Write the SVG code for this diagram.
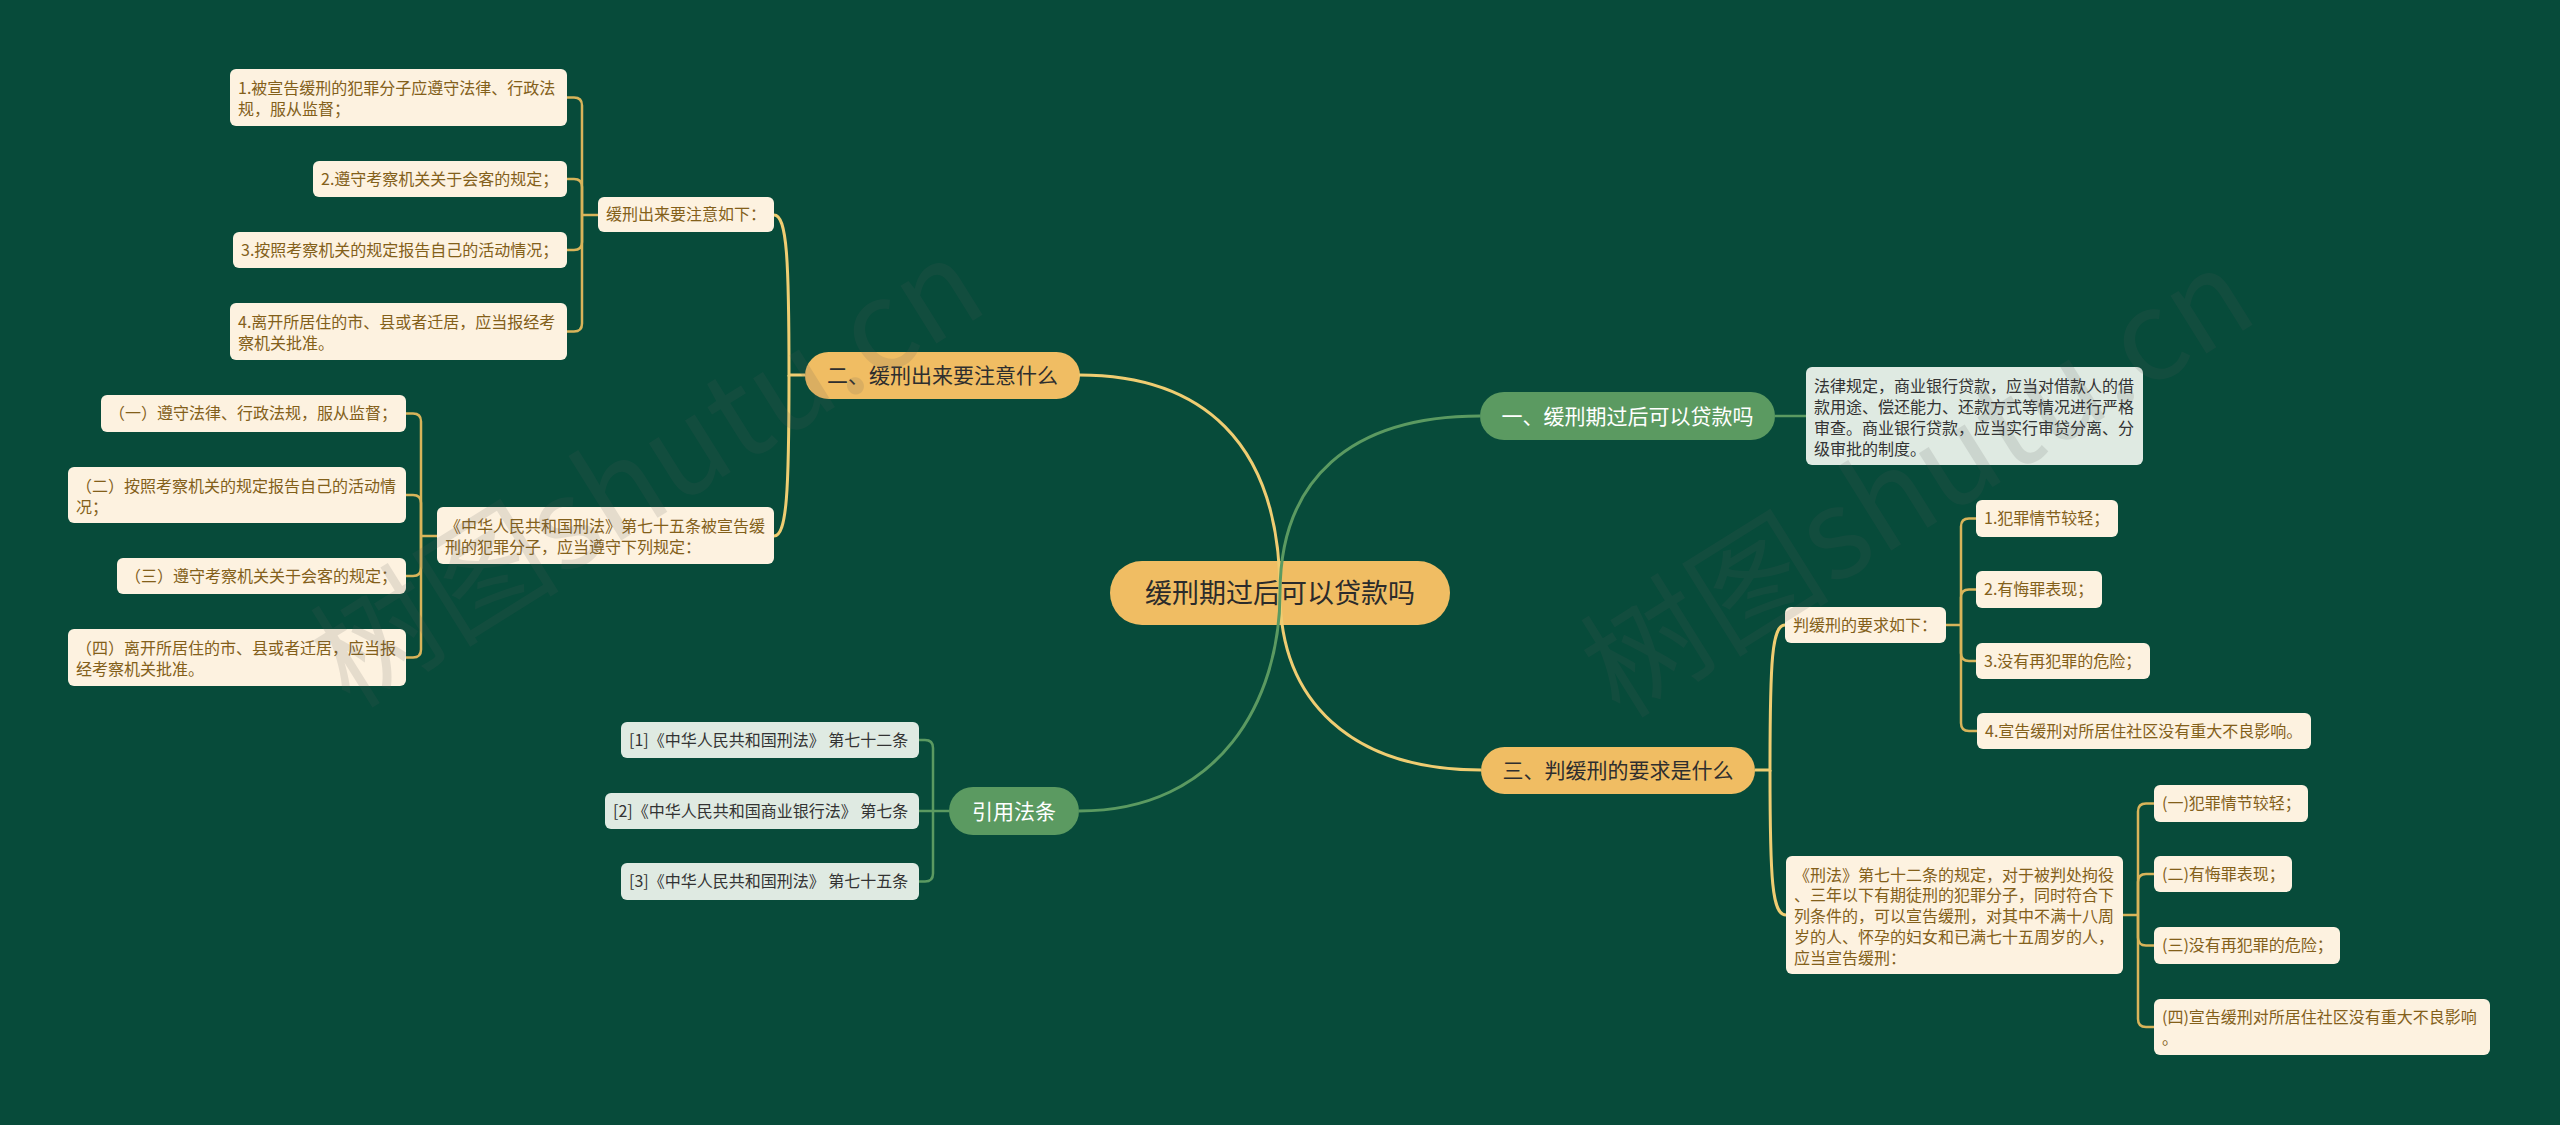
<svg xmlns="http://www.w3.org/2000/svg" width="2560" height="1125" viewBox="0 0 2560 1125">
<style>
text{font-family:"Noto Sans CJK SC","Noto Sans",sans-serif;}
.bg{fill:#074b3a;}
.ry{fill:#f0bd63;}
.rg{fill:#5b9a61;}
.cr{fill:#fdf2e0;}
.mt{fill:#dfeae2;}
.t27{font-size:27px;fill:#2b2b2b;text-anchor:middle;}
.t21d{font-size:21px;fill:#2e2e2e;text-anchor:middle;}
.t21w{font-size:21px;fill:#ffffff;text-anchor:middle;}
.tb{font-size:16px;fill:#83601a;}
.td{font-size:16px;fill:#333333;}
.ly{fill:none;stroke:#efcd72;stroke-width:3;}
.lb{fill:none;stroke:#d8b45a;stroke-width:2.5;}
.lg{fill:none;stroke:#5b9a61;stroke-width:3;}
.lg2{fill:none;stroke:#5b9a61;stroke-width:2.5;}
.wm{font-size:125px;fill:#5a5a5a;opacity:0.14;}
</style>
<rect class="bg" x="0" y="0" width="2560" height="1125"/>

<g id="root">
<rect class="ry" x="1110" y="561" width="340" height="64" rx="32"/>
<text class="t27" x="1280" y="603">缓刑期过后可以贷款吗</text>
</g>

<g id="n1">
<rect class="rg" x="1480" y="392" width="295" height="48" rx="24"/>
<text class="t21w" x="1627.5" y="423.5">一、缓刑期过后可以贷款吗</text>
</g>
<g id="n2">
<rect class="ry" x="805" y="352" width="275" height="47" rx="23.5"/>
<text class="t21d" x="942.5" y="383">二、缓刑出来要注意什么</text>
</g>
<g id="n3">
<rect class="ry" x="1481" y="747" width="274" height="47" rx="23.5"/>
<text class="t21d" x="1618" y="778">三、判缓刑的要求是什么</text>
</g>
<g id="n4">
<rect class="rg" x="949" y="787" width="130" height="48" rx="24"/>
<text class="t21w" x="1014" y="818.5">引用法条</text>
</g>

<g id="a">
<rect class="cr" x="598" y="197" width="176" height="35" rx="6"/>
<text class="tb" x="606" y="220.2">缓刑出来要注意如下：</text>
</g>
<g id="a1">
<rect class="cr" x="230" y="69" width="337" height="57" rx="6"/>
<text class="tb" x="238" y="93.6">1.被宣告缓刑的犯罪分子应遵守法律、行政法</text>
<text class="tb" x="238" y="114.6">规，服从监督；</text>
</g>
<g id="a2">
<rect class="cr" x="313" y="161" width="254" height="36" rx="6"/>
<text class="tb" x="321" y="184.6">2.遵守考察机关关于会客的规定；</text>
</g>
<g id="a3">
<rect class="cr" x="233" y="232" width="334" height="36" rx="6"/>
<text class="tb" x="241" y="255.6">3.按照考察机关的规定报告自己的活动情况；</text>
</g>
<g id="a4">
<rect class="cr" x="230" y="303" width="337" height="57" rx="6"/>
<text class="tb" x="238" y="328.2">4.离开所居住的市、县或者迁居，应当报经考</text>
<text class="tb" x="238" y="349.2">察机关批准。</text>
</g>

<g id="b">
<rect class="cr" x="437" y="507" width="337" height="57" rx="6"/>
<text class="tb" x="445" y="532.2">《中华人民共和国刑法》第七十五条被宣告缓</text>
<text class="tb" x="445" y="553.2">刑的犯罪分子，应当遵守下列规定：</text>
</g>
<g id="b1">
<rect class="cr" x="101" y="395" width="305" height="37" rx="6"/>
<text class="tb" x="109" y="419.1">（一）遵守法律、行政法规，服从监督；</text>
</g>
<g id="b2">
<rect class="cr" x="68" y="467" width="338" height="56" rx="6"/>
<text class="tb" x="76" y="492.2">（二）按照考察机关的规定报告自己的活动情</text>
<text class="tb" x="76" y="513.2">况；</text>
</g>
<g id="b3">
<rect class="cr" x="117" y="558" width="289" height="36" rx="6"/>
<text class="tb" x="125" y="581.6">（三）遵守考察机关关于会客的规定；</text>
</g>
<g id="b4">
<rect class="cr" x="68" y="629" width="338" height="57" rx="6"/>
<text class="tb" x="76" y="654.2">（四）离开所居住的市、县或者迁居，应当报</text>
<text class="tb" x="76" y="675.2">经考察机关批准。</text>
</g>

<g id="c1">
<rect class="mt" x="621" y="722" width="298" height="36" rx="6"/>
<text class="td" x="629" y="745.6">[1]《中华人民共和国刑法》 第七十二条</text>
</g>
<g id="c2">
<rect class="mt" x="605" y="793" width="314" height="36" rx="6"/>
<text class="td" x="613" y="816.6">[2]《中华人民共和国商业银行法》 第七条</text>
</g>
<g id="c3">
<rect class="mt" x="621" y="863" width="298" height="37" rx="6"/>
<text class="td" x="629" y="887.1">[3]《中华人民共和国刑法》 第七十五条</text>
</g>

<g id="d">
<rect class="mt" x="1806" y="367" width="337" height="98" rx="6"/>
<text class="td" x="1814" y="391.6">法律规定，商业银行贷款，应当对借款人的借</text>
<text class="td" x="1814" y="412.6">款用途、偿还能力、还款方式等情况进行严格</text>
<text class="td" x="1814" y="433.6">审查。商业银行贷款，应当实行审贷分离、分</text>
<text class="td" x="1814" y="454.6">级审批的制度。</text>
</g>

<g id="e">
<rect class="cr" x="1785" y="607" width="161" height="36" rx="6"/>
<text class="tb" x="1793" y="630.6">判缓刑的要求如下：</text>
</g>
<g id="e1">
<rect class="cr" x="1976" y="500" width="142" height="37" rx="6"/>
<text class="tb" x="1984" y="524.1">1.犯罪情节较轻；</text>
</g>
<g id="e2">
<rect class="cr" x="1976" y="571" width="126" height="37" rx="6"/>
<text class="tb" x="1984" y="595.1">2.有悔罪表现；</text>
</g>
<g id="e3">
<rect class="cr" x="1976" y="643" width="174" height="36" rx="6"/>
<text class="tb" x="1984" y="666.6">3.没有再犯罪的危险；</text>
</g>
<g id="e4">
<rect class="cr" x="1977" y="713" width="334" height="36" rx="6"/>
<text class="tb" x="1985" y="736.6">4.宣告缓刑对所居住社区没有重大不良影响。</text>
</g>

<g id="f">
<rect class="cr" x="1786" y="856" width="337" height="118" rx="6"/>
<text class="tb" x="1794" y="880.6">《刑法》第七十二条的规定，对于被判处拘役</text>
<text class="tb" x="1794" y="901.4">、三年以下有期徒刑的犯罪分子，同时符合下</text>
<text class="tb" x="1794" y="922.2">列条件的，可以宣告缓刑，对其中不满十八周</text>
<text class="tb" x="1794" y="943">岁的人、怀孕的妇女和已满七十五周岁的人，</text>
<text class="tb" x="1794" y="963.8">应当宣告缓刑：</text>
</g>
<g id="f1">
<rect class="cr" x="2154" y="785" width="154" height="37" rx="6"/>
<text class="tb" x="2162" y="809.1">(一)犯罪情节较轻；</text>
</g>
<g id="f2">
<rect class="cr" x="2154" y="856" width="138" height="36" rx="6"/>
<text class="tb" x="2162" y="879.6">(二)有悔罪表现；</text>
</g>
<g id="f3">
<rect class="cr" x="2154" y="927" width="186" height="37" rx="6"/>
<text class="tb" x="2162" y="951.1">(三)没有再犯罪的危险；</text>
</g>
<g id="f4">
<rect class="cr" x="2154" y="999" width="336" height="56" rx="6"/>
<text class="tb" x="2162" y="1022.6">(四)宣告缓刑对所居住社区没有重大不良影响</text>
<text class="tb" x="2162" y="1043.6">。</text>
</g>

<g id="connectors">
<path class="ly" d="M1280,593 C1280,440 1200,375 1079,375"/>
<path class="ly" d="M1280,593 C1280,700 1350,770 1481,770"/>
<path class="lg" d="M1280,593 C1280,480 1350,416 1480,416"/>
<path class="lg" d="M1280,593 C1280,700 1220,811 1079,811"/>

<path class="ly" d="M805,375 H789 C789,260 787,215 774,215"/>
<path class="ly" d="M789,375 C789,490 787,536 774,536"/>
<path class="ly" d="M1755,770 H1770 C1770,660 1772,625 1785,625"/>
<path class="ly" d="M1770,770 C1770,880 1772,915 1786,915"/>
<path class="lg2" d="M1775,416 H1806"/>

<path class="lb" d="M598,215 H582"/>
<path class="lb" d="M582,215 V105.5 Q582,97.5 574,97.5 H567"/>
<path class="lb" d="M582,215 V187 Q582,179 574,179 H567"/>
<path class="lb" d="M582,215 V242 Q582,250 574,250 H567"/>
<path class="lb" d="M582,215 V323.5 Q582,331.5 574,331.5 H567"/>

<path class="lb" d="M437,536 H421"/>
<path class="lb" d="M421,536 V421.5 Q421,413.5 413,413.5 H406"/>
<path class="lb" d="M421,536 V503 Q421,495 413,495 H406"/>
<path class="lb" d="M421,536 V568 Q421,576 413,576 H406"/>
<path class="lb" d="M421,536 V649.5 Q421,657.5 413,657.5 H406"/>

<path class="lg2" d="M949,811 H919"/>
<path class="lg2" d="M933,811 V748 Q933,740 925,740 H919"/>
<path class="lg2" d="M933,811 V873.5 Q933,881.5 925,881.5 H919"/>

<path class="lb" d="M1946,625 H1961"/>
<path class="lb" d="M1961,625 V526.5 Q1961,518.5 1969,518.5 H1976"/>
<path class="lb" d="M1961,625 V597.5 Q1961,589.5 1969,589.5 H1976"/>
<path class="lb" d="M1961,625 V653 Q1961,661 1969,661 H1976"/>
<path class="lb" d="M1961,625 V723 Q1961,731 1969,731 H1977"/>

<path class="lb" d="M2123,915 H2138"/>
<path class="lb" d="M2138,915 V811.5 Q2138,803.5 2146,803.5 H2154"/>
<path class="lb" d="M2138,915 V882 Q2138,874 2146,874 H2154"/>
<path class="lb" d="M2138,915 V937.5 Q2138,945.5 2146,945.5 H2154"/>
<path class="lb" d="M2138,915 V1019 Q2138,1027 2146,1027 H2154"/>
</g>

<g id="watermark">
<text class="wm" transform="translate(350,710) rotate(-32)">树图shutu.cn</text>
<text class="wm" transform="translate(1620,720) rotate(-32)">树图shutu.cn</text>
</g>
</svg>
